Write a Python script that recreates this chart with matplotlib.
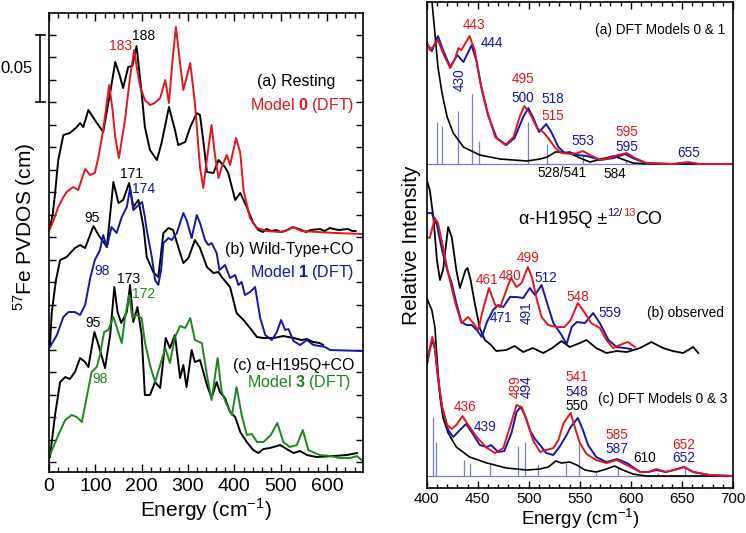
import matplotlib.pyplot as plt
from matplotlib import font_manager
from matplotlib.ticker import MultipleLocator, FixedLocator, NullLocator

plt.rcParams['font.family'] = ['Liberation Sans', 'DejaVu Sans']
plt.rcParams['mathtext.fontset'] = 'custom'
plt.rcParams['mathtext.rm'] = 'Liberation Sans'
plt.rcParams['mathtext.bf'] = 'Liberation Sans:bold'

RED = '#e3161d'
BLUE = '#1515a8'
GREEN = '#1e8520'
STICK = '#7b7bd0'

installed = {f.name for f in font_manager.fontManager.ttflist}
if 'Liberation Sans Narrow' in installed:
    NARROW = dict(family='Liberation Sans Narrow', fontsize=11)
else:
    NARROW = dict(family='Liberation Sans', fontsize=9.8)

# ---- left panel: 57Fe PVDOS (arbitrary units, the 0.05 bar = 67), (energy, value) ----
rest_obs = [(0, 4), (2, 6), (8, 20), (13, 40), (17, 60), (20, 74), (31, 99), (45, 101), (60, 107),
            (67, 111), (74, 107), (85, 124), (99, 114), (117, 102), (132, 141), (143, 172), (153, 158),
            (160, 146), (171, 167), (180, 168), (189, 188), (200, 141), (207, 107), (218, 84), (233, 74),
            (243, 91), (259, 127), (272, 104), (279, 89), (294, 92), (305, 107), (319, 121), (326, 119),
            (334, 90), (341, 62), (355, 61), (366, 74), (380, 67), (387, 61), (402, 34), (413, 41),
            (427, 27), (441, 11), (452, 4), (462, 2), (470, 5), (480, 3), (490, 4), (500, 2), (510, 3),
            (527, 7), (545, 4), (555, 2), (565, 4), (585, 5), (595, 3), (606, 6), (625, 4), (645, 5),
            (655, 3), (662, 3)]
rest_dft = [(0, 4), (2, 5), (10, 14), (20, 27), (30, 36), (38, 42), (52, 47), (63, 44), (78, 65),
            (89, 59), (99, 61), (108, 80), (117, 104), (130, 149), (137, 125), (143, 97), (151, 76),
            (164, 114), (175, 157), (184, 184), (190, 165), (197, 147), (207, 134), (218, 129), (228, 131),
            (240, 136), (251, 154), (259, 131), (267, 175), (274, 207), (282, 175), (290, 144), (305, 171),
            (315, 131), (326, 67), (333, 46), (341, 75), (351, 109), (358, 80), (366, 56), (373, 67),
            (384, 79), (391, 69), (404, 96), (413, 81), (420, 44), (434, 16), (449, 6), (470, 3),
            (500, 2), (515, 4), (527, 7), (545, 3), (580, 2), (620, 1), (678, 0)]
wt_obs = [(0, 3), (2, 5), (6, 38), (15, 70), (24, 90), (38, 93), (56, 102), (67, 105), (78, 102),
          (96, 124), (107, 115), (125, 103), (139, 168), (150, 147), (160, 150), (173, 167), (182, 143),
          (193, 150), (204, 123), (211, 93), (225, 78), (236, 73), (247, 117), (258, 122), (268, 120),
          (279, 103), (290, 87), (301, 92), (315, 110), (326, 102), (341, 83), (355, 77), (366, 78),
          (373, 73), (391, 63), (405, 37), (420, 30), (434, 22), (449, 13), (463, 12), (485, 12),
          (506, 14), (528, 12), (545, 10), (557, 11), (570, 8), (585, 7), (592, 5)]
wt_dft = [(0, 2), (2, 3), (17, 15), (31, 33), (42, 38), (56, 38), (67, 35), (78, 45), (89, 72),
          (99, 90), (110, 100), (117, 115), (125, 103), (135, 123), (146, 117), (157, 133), (168, 143),
          (175, 162), (182, 140), (189, 143), (201, 148), (207, 133), (211, 120), (222, 93), (229, 70),
          (236, 65), (242, 80), (247, 107), (258, 112), (265, 110), (276, 117), (290, 137), (297, 130),
          (308, 112), (319, 135), (326, 127), (337, 110), (344, 105), (351, 107), (362, 97), (368, 80),
          (380, 85), (391, 72), (402, 75), (409, 65), (416, 68), (423, 55), (434, 58), (445, 63),
          (456, 32), (467, 15), (481, 10), (492, 18), (501, 30), (510, 20), (517, 21), (528, 9),
          (542, 5), (557, 10), (571, 5), (585, 4), (596, 3), (607, 0), (678, -1)]
h195q_obs = [(0, 4), (2, 5), (13, 47), (24, 80), (35, 85), (45, 83), (56, 90), (67, 104), (78, 100),
             (85, 95), (98, 130), (107, 117), (121, 94), (132, 127), (141, 175), (148, 150), (156, 139),
             (168, 150), (175, 177), (182, 140), (191, 155), (200, 127), (207, 67), (218, 67), (229, 80),
             (240, 74), (252, 124), (261, 114), (272, 127), (283, 84), (290, 97), (297, 75), (308, 112),
             (315, 100), (326, 102), (341, 77), (351, 64), (362, 80), (369, 70), (380, 64), (391, 50),
             (402, 45), (413, 30), (427, 20), (441, 12), (452, 9), (463, 13), (477, 14), (499, 17),
             (513, 13), (528, 9), (542, 11), (557, 7), (578, 5), (614, 6), (643, 7), (665, 9)]
h195q_dft = [(0, 6), (2, 7), (20, 27), (35, 42), (49, 47), (60, 45), (71, 40), (81, 64), (92, 90),
             (103, 95), (110, 107), (119, 130), (128, 132), (139, 145), (146, 135), (157, 119), (164, 144),
             (173, 167), (180, 144), (189, 147), (200, 144), (207, 120), (218, 97), (229, 80), (240, 97),
             (251, 114), (261, 99), (272, 125), (283, 136), (294, 134), (305, 144), (315, 122), (330, 119),
             (341, 87), (351, 62), (364, 104), (373, 70), (384, 57), (395, 47), (405, 75), (416, 47),
             (427, 27), (438, 28), (449, 20), (463, 20), (479, 27), (493, 39), (506, 20), (520, 15),
             (535, 17), (548, 32), (560, 12), (574, 9), (585, 7), (607, 6), (628, 4), (650, 4), (665, 6),
             (680, 0)]
left_base = {'a': 238, 'b': 122, 'c': 10}

# ---- right panel: relative intensity (arbitrary units) ----
dft01_ref = [(401, 230), (403, 190), (405, 164), (408, 131), (411, 97), (415, 71), (420, 47), (426, 31),
             (436, 17), (452, 9), (472, 5), (498, 3), (511, 5), (518, 7), (526, 12), (532, 12), (540, 11),
             (550, 6), (560, 2), (571, 5), (583, 8), (591, 5), (602, 1), (620, 0), (700, 0)]
dft01_red = [(400, 122), (403, 114), (406, 117), (411, 124), (416, 111), (423, 96), (428, 106), (431, 116),
             (434, 114), (442, 128), (447, 114), (452, 84), (459, 54), (467, 27), (477, 19), (485, 27),
             (491, 47), (495.5, 58), (501, 51), (508, 36), (514, 32), (519, 26), (526, 16), (532, 11),
             (542, 10), (548, 11), (553, 13), (560, 9), (570, 4), (579, 6), (587, 9), (596, 11), (604, 6),
             (615, 1), (641, 0), (656, 2), (667, 0), (700, 0)]
dft01_blue = [(400, 121), (405, 113), (411, 128), (416, 114), (423, 97), (430, 109), (436, 102), (444, 119),
              (449, 102), (454, 74), (460, 49), (468.5, 26), (478, 19), (486, 26), (494.5, 47), (499.5, 56),
              (504, 47), (510, 32), (517, 40), (522, 32), (529, 17), (535, 11), (540, 12), (547, 9),
              (557, 8), (570, 4), (583, 6), (594, 10), (604, 5), (615, 1), (641, 0), (656, 1), (667, 0),
              (700, 0)]
dft01_sticks_e = [410.4, 415.3, 430.3, 444, 451.5, 499.4, 518, 553, 595, 657]
dft01_sticks_h = [42, 38, 53, 70, 23, 42, 20, 9, 4, 3]

obs_ref = [(400, 173), (403, 163), (406.5, 136), (410, 93), (413, 73), (416, 83), (421, 126), (424.5, 116),
           (429, 83), (432.5, 65), (438, 83), (440, 85), (443, 73), (447, 50), (452, 25), (457, 13),
           (463, 8), (468, 2), (478, 3), (486, 7), (494.5, 1), (504, 5), (514, 0), (523, 5), (532, 12),
           (540, 6), (550, 10), (556.5, 13), (566, 5), (576, 0), (586, 2), (596, 1), (609, 5), (620, 11),
           (631.5, 5), (641, 2), (651, 0), (661, 6), (666, 0)]
obs_12co = [(400, 140), (405, 140), (410, 128), (415, 103), (420, 83), (424.5, 70), (429, 50), (434, 31),
            (439, 28), (444, 28), (449, 23), (454, 16), (459, 31), (465, 43), (470, 48), (475, 46),
            (481.5, 56), (488, 56), (494.5, 55), (501, 65), (506, 58), (512.5, 68), (517, 53), (524, 30),
            (532, 18), (537, 9), (542, 26), (547, 31), (555, 30), (563, 40), (569.5, 30), (578, 13),
            (586, 6), (594, 5), (600, 4)]
obs_13co = [(400, 116), (403, 115), (408, 135), (411, 130), (416, 106), (421, 80), (428, 50), (434, 30),
            (440.5, 36), (445.5, 30), (450.5, 23), (455, 43), (461, 65), (467, 48), (472, 46), (478, 63),
            (482.5, 75), (488, 66), (493, 70), (499, 86), (503, 76), (508, 53), (512.5, 36), (519, 28),
            (527, 26), (535, 26), (541, 33), (548, 50), (555, 40), (561, 30), (569.5, 25), (576, 13),
            (582.5, 5), (589, 8), (597, 11), (604, 6)]

dft03_ref = [(400, 178), (405, 166), (408, 149), (410, 119), (413, 79), (416, 58), (421, 43), (429, 29),
             (442, 19), (459, 13), (478, 8), (498, 6), (511, 7), (519, 9), (526.5, 15), (532, 13), (540, 14),
             (547, 11), (555, 6), (566, 4), (576, 7), (584, 10), (592, 6), (602, 2), (615, 0), (700, 0)]
dft03_red = [(400, 112), (403, 128), (405.5, 139), (408, 129), (411, 100), (415, 70), (420, 51), (424.5, 47),
             (429, 51), (435, 60), (440.7, 51), (449, 39), (459, 28), (467, 23), (475, 28), (481.5, 49),
             (488, 71), (493, 69), (498, 56), (504, 36), (511, 24), (517, 26), (524, 28), (529, 36),
             (534, 53), (541, 63), (545, 49), (550, 33), (556.5, 22), (566, 16), (576, 13), (586, 16),
             (596, 11), (609, 4), (617, 4), (625, 7), (634, 4), (642, 6), (652, 9), (661, 4), (677, 1),
             (700, 0)]
dft03_blue = [(400, 110), (403, 126), (405.5, 136), (408, 127), (411, 98), (415, 68), (421, 46), (426, 39),
              (432.5, 46), (438.5, 52), (444, 44), (452, 31), (459, 29), (463, 31), (470, 24), (476, 25),
              (483, 43), (488, 64), (492, 69), (496, 61), (501, 46), (506, 37), (511, 31), (517, 23),
              (524, 21), (530, 29), (537, 41), (541, 49), (548, 58), (553, 46), (558, 31), (566, 19),
              (576, 14), (586.5, 17), (596, 13), (609, 4), (617, 4), (625, 6), (634, 4), (642, 6), (652, 9),
              (661, 4), (677, 1), (700, 0)]
dft03_sticks_e = [405.8, 408.8, 436.8, 442.4, 462, 489, 496.2, 508.6, 536, 549, 566, 587.5, 626.6, 652.7]
dft03_sticks_h = [59, 34, 16, 13, 12, 30, 34, 12, 13, 33, 3, 9, 3, 9]
right_base = {'a': 324, 'b': 135, 'c': 12}


def trace(ax, pts, base, color, lw=1.4):
    e = [p[0] for p in pts]
    v = [p[1] + base for p in pts]
    ax.plot(e, v, color=color, lw=lw, solid_joinstyle='round')


fig = plt.figure(figsize=(7.46, 5.33), dpi=100)
axL = fig.add_axes([0.0657, 0.1144, 0.4209, 0.8612])
axR = fig.add_axes([0.572, 0.0844, 0.4106, 0.9118])

# ---------------- left ----------------
trace(axL, rest_obs, left_base['a'], 'black')
trace(axL, rest_dft, left_base['a'], RED)
trace(axL, wt_obs, left_base['b'], 'black')
trace(axL, wt_dft, left_base['b'], BLUE)
trace(axL, h195q_obs, left_base['c'], 'black')
trace(axL, h195q_dft, left_base['c'], GREEN)

axL.set_xlim(0, 678)
axL.set_ylim(0, 459)
axL.xaxis.set_major_locator(MultipleLocator(100))
axL.xaxis.set_minor_locator(MultipleLocator(20))
axL.yaxis.set_major_locator(FixedLocator([10 + 22.5 * k for k in range(20)]))
axL.set_yticklabels([])
axL.tick_params(which='both', direction='in', top=True, right=True, width=1.0)
axL.tick_params(axis='x', which='major', length=6, labelsize=14, pad=4)
axL.tick_params(axis='x', which='minor', length=3.5)
axL.tick_params(axis='y', length=5)
axL.set_xlabel(r'Energy (cm$^{-1}$)', fontsize=15, labelpad=1)
axL.set_ylabel(r'$^{57}$Fe PVDOS (cm)', fontsize=15)
axL.yaxis.set_label_coords(-0.036, 0.535)

# scale bar
axL.plot([-19.5, -19.5], [370, 437], color='black', lw=1.2, clip_on=False)
axL.plot([-28, -9], [437, 437], color='black', lw=1.2, clip_on=False)
axL.plot([-28, -9], [370, 370], color='black', lw=1.2, clip_on=False)
axL.text(-36, 404, '0.05', fontsize=12, ha='right', va='center')

left_labels = [
    ('183', 155, 426, RED), ('188', 205, 436, 'black'),
    ('171', 178, 298, 'black'), ('174', 205, 283, BLUE), ('95', 92, 254, 'black'),
    ('98', 115, 201, BLUE), ('173', 171, 193, 'black'), ('172', 205, 178, GREEN),
    ('95', 95, 149, 'black'), ('98', 111, 93, GREEN),
]
for txt, x, y, c in left_labels:
    axL.text(x, y, txt, color=c, fontsize=10, ha='center', va='center')

left_names = [
    ('(a) Resting', 533, 391, 'black'), (r'Model $\mathbf{0}$ (DFT)', 546, 367, RED),
    ('(b) Wild-Type+CO', 519, 223, 'black'), (r'Model $\mathbf{1}$ (DFT)', 546, 200, BLUE),
    ('(c) α-H195Q+CO', 528, 107, 'black'), (r'Model $\mathbf{3}$ (DFT)', 541, 90, GREEN),
]
for txt, x, y, c in left_names:
    axL.text(x, y, txt, color=c, fontsize=11.5, ha='center', va='center')

for s in axL.spines.values():
    s.set_linewidth(1.2)

# ---------------- right ----------------
for base in (right_base['a'], right_base['c']):
    axR.plot([400, 700], [base, base], color=STICK, lw=0.9)
axR.vlines(dft01_sticks_e, right_base['a'], [right_base['a'] + h for h in dft01_sticks_h], color=STICK, lw=0.9)
axR.vlines(dft03_sticks_e, right_base['c'], [right_base['c'] + h for h in dft03_sticks_h], color=STICK, lw=0.9)

trace(axR, dft01_ref, right_base['a'], 'black', 1.2)
trace(axR, dft01_blue, right_base['a'], BLUE)
trace(axR, dft01_red, right_base['a'], RED)
trace(axR, obs_ref, right_base['b'], 'black', 1.3)
trace(axR, obs_12co, right_base['b'], BLUE)
trace(axR, obs_13co, right_base['b'], RED)
trace(axR, dft03_ref, right_base['c'], 'black', 1.2)
trace(axR, dft03_blue, right_base['c'], BLUE)
trace(axR, dft03_red, right_base['c'], RED)

axR.set_xlim(400, 700)
axR.set_ylim(0, 486)
axR.xaxis.set_major_locator(MultipleLocator(50))
axR.xaxis.set_minor_locator(MultipleLocator(10))
axR.yaxis.set_major_locator(NullLocator())
axR.tick_params(which='both', direction='in', top=True, width=1.0)
axR.tick_params(axis='x', which='major', length=5, labelsize=11, pad=3)
axR.tick_params(axis='x', which='minor', length=3)
axR.set_xlabel(r'Energy (cm$^{-1}$)', fontsize=13.5, labelpad=0)
axR.set_ylabel('Relative Intensity', fontsize=15, labelpad=4)

right_labels = [
    ('443', 446, 463, RED, 0), ('444', 463.5, 445, BLUE, 0), ('430', 432.5, 408, BLUE, 90),
    ('495', 494, 409, RED, 0), ('500', 494, 390, BLUE, 0), ('518', 523, 389, BLUE, 0),
    ('515', 523, 372, RED, 0), ('553', 553, 347, BLUE, 0), ('595', 596, 356, RED, 0),
    ('595', 596, 341, BLUE, 0), ('655', 657, 335, BLUE, 0),
    ('528/541', 532, 315, 'black', 0), ('584', 584, 314, 'black', 0),
    ('461', 459, 208, RED, 0), ('480', 482, 212, RED, 0), ('499', 499.4, 230, RED, 0),
    ('512', 516.7, 210, BLUE, 0), ('471', 473, 170, BLUE, 0), ('491', 498, 175, BLUE, 90),
    ('548', 548, 191, RED, 0), ('559', 579, 175, BLUE, 0),
    ('436', 438, 81, RED, 0), ('439', 457, 61, BLUE, 0), ('489', 487.4, 101, RED, 90),
    ('494', 497.8, 101, BLUE, 90), ('541', 547, 111, RED, 0), ('548', 547, 96, BLUE, 0),
    ('550', 547, 82, 'black', 0), ('585', 586.5, 53, RED, 0), ('587', 586.5, 39, BLUE, 0),
    ('610', 613.6, 30, 'black', 0), ('652', 651.7, 43, RED, 0), ('652', 651.7, 30, BLUE, 0),
]
for txt, x, y, c, rot in right_labels:
    axR.text(x, y, txt, color=c, fontsize=9.8, ha='center', va='center', rotation=rot)

axR.text(629, 458, '(a) DFT Models 0 & 1', ha='center', va='center', **NARROW)
axR.text(653, 175, '(b) observed', ha='center', va='center', **NARROW)
axR.text(631, 89, '(c) DFT Models 0 & 3', ha='center', va='center', **NARROW)

t1 = axR.text(490, 264, 'α-H195Q ±', fontsize=13, ha='left', va='baseline')
t2 = axR.annotate('12', xy=(1, 0.6), xycoords=t1, fontsize=8, color=BLUE, va='bottom', ha='left')
t3 = axR.annotate('/', xy=(1, 0), xycoords=t2, fontsize=8, color='black', va='bottom', ha='left')
t4 = axR.annotate('13', xy=(1, 0), xycoords=t3, fontsize=8, color=RED, va='bottom', ha='left')
axR.annotate('CO', xy=(1, 0), xycoords=(t4, t1), fontsize=13, va='bottom', ha='left')

for s in axR.spines.values():
    s.set_linewidth(1.2)

fig.savefig('out.png', dpi=100)
